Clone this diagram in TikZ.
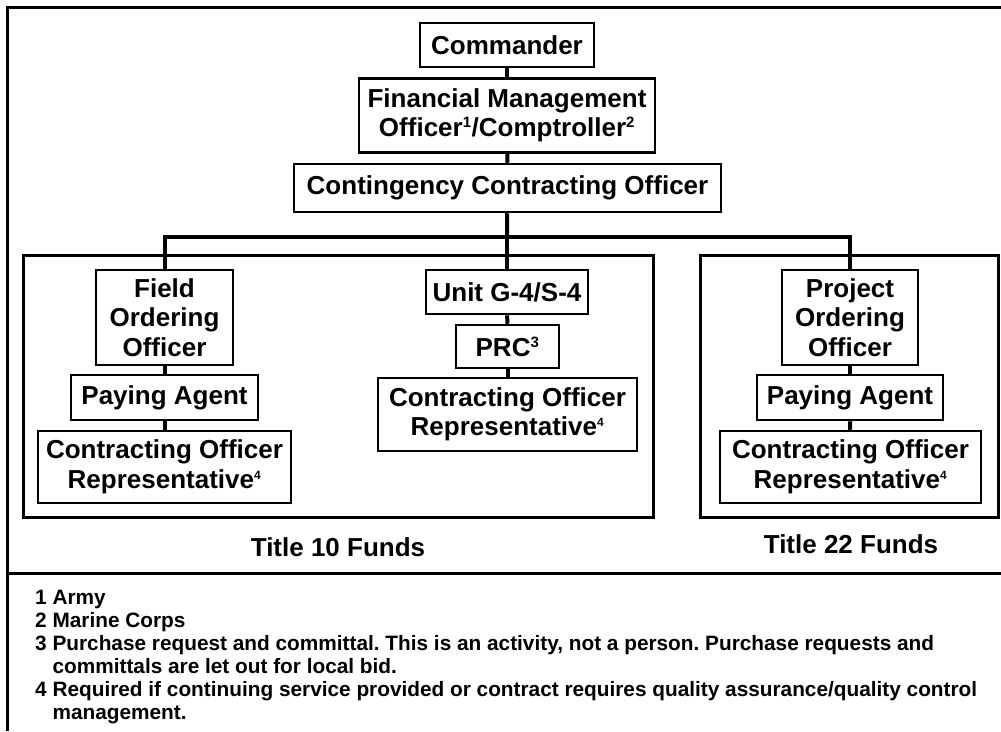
\documentclass[tikz,border=0pt]{standalone}
\usepackage{fontspec}
\setmainfont{Liberation Sans}
\frenchspacing
\newcommand{\renvoi}[1]{\textsuperscript{\fontsize{15}{15}\selectfont #1}}
\newcommand{\petitrenvoi}[1]{\textsuperscript{\fontsize{12}{12}\selectfont #1}}
\begin{document}
\begin{tikzpicture}[x=1pt,y=-1pt]
  \tikzstyle{boite}=[draw,line width=2.5pt,inner sep=0pt,align=center,font=\fontsize{26}{29.5}\selectfont\bfseries]
  \tikzstyle{titre}=[font=\fontsize{26}{29.5}\selectfont\bfseries]
  \tikzstyle{lien}=[line width=4pt]
  \tikzstyle{cadre}=[line width=3pt]
  \useasboundingbox (0,0) rectangle (1001,731);
  % cadre general
  \draw[cadre] (1001,7) -- (7,7) -- (7,731);
  \draw[cadre] (7,573) -- (1001,573);
  \draw[cadre] (23,255) rectangle (653,517);
  \draw[cadre] (700,255) rectangle (998,517);
  % haut
  \node[boite,minimum width=174pt,minimum height=44pt] (cmd) at (507,45) {Commander};
  \node[boite,minimum width=296pt,minimum height=74pt] (fmo) at (507,115.5) {Financial Management\\Officer\renvoi{1}/Comptroller\renvoi{2}};
  \node[boite,minimum width=427pt,minimum height=48pt] (cco) at (507.5,188) {Contingency Contracting Officer};
  \coordinate (barre) at (507,237);
  % Title 10
  \node[boite,minimum width=137pt,minimum height=95pt] (foo) at (164.5,317.5) {Field\\Ordering\\Officer};
  \node[boite,minimum width=187pt,minimum height=45pt] (pa1) at (164.5,397.5) {Paying Agent};
  \node[boite,minimum width=253pt,minimum height=72pt] (cor1) at (164.5,467) {Contracting Officer\\Representative\petitrenvoi{4}};
  \node[boite,minimum width=162pt,minimum height=44pt] (unit) at (507,292) {Unit G-4/S-4};
  \node[boite,minimum width=103pt,minimum height=43pt] (prc) at (507.5,346.5) {PRC\renvoi{3}};
  \node[boite,minimum width=259pt,minimum height=73pt] (cor2) at (507.5,414.5) {Contracting Officer\\Representative\petitrenvoi{4}};
  % Title 22
  \node[boite,minimum width=136pt,minimum height=95pt] (poo) at (850,317.5) {Project\\Ordering\\Officer};
  \node[boite,minimum width=186pt,minimum height=45pt] (pa2) at (850,397.5) {Paying Agent};
  \node[boite,minimum width=261pt,minimum height=72pt] (cor3) at (850.5,467) {Contracting Officer\\Representative\petitrenvoi{4}};
  % liens
  \draw[lien] (cmd) -- (fmo);
  \draw[lien] (fmo) -- (cco);
  \draw[lien] (cco) -- (barre);
  \draw[lien] (foo.north -| 164.5,0) |- (barre) -| (poo.north);
  \draw[lien] (barre) -- (unit);
  \draw[lien] (foo) -- (pa1);
  \draw[lien] (pa1) -- (cor1);
  \draw[lien] (unit) -- (prc);
  \draw[lien] (prc) -- (cor2);
  \draw[lien] (poo) -- (pa2);
  \draw[lien] (pa2) -- (cor3);
  % titres
  \node[titre] (t10) at (338,547) {Title 10 Funds};
  \node[titre] (t22) at (851,544) {Title 22 Funds};
  % notes
  \node[anchor=west,align=left,inner sep=0pt,font=\fontsize{20.8}{23}\selectfont\bfseries] (notes) at (35,657) {1 Army\\
    2 Marine Corps\\
    3 Purchase request and committal. This is an activity, not a person. Purchase requests and\\
    \phantom{3 }committals are let out for local bid.\\
    4 Required if continuing service provided or contract requires quality assurance/quality control\\
    \phantom{4 }management.};
\end{tikzpicture}
\end{document}
